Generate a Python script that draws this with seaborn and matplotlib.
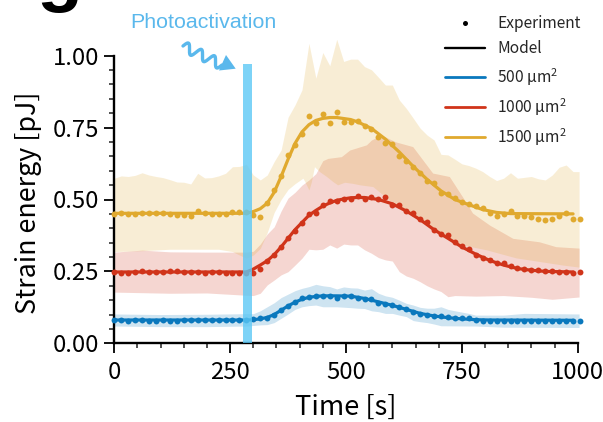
import numpy as np
import pandas as pd
import matplotlib
matplotlib.use("Agg")
import matplotlib.pyplot as plt
from matplotlib.lines import Line2D
from matplotlib.patches import Polygon
from matplotlib.ticker import MultipleLocator
import seaborn as sns

BLUE, RED, YELLOW = "#0a78bd", "#d0341a", "#e0a92e"

time_exp = list(range(0, 1006, 15))
exp_500 = [.081,.08,.079,.08,.08,.079,.079,.08,.079,.079,.081,.081,.081,.081,.081,.081,.081,.081,.081,.082,
           .083,.087,.089,.10,.116,.131,.143,.156,.16,.166,.163,.165,.159,.164,.163,.159,.153,.153,.14,.136,
           .132,.126,.118,.108,.101,.098,.095,.095,.09,.088,.088,.087,.081,.078,.079,.079,.079,.078,.078,.079,
           .079,.078,.079,.079,.077,.078,.079,.079]
exp_1000 = [.249,.246,.246,.249,.252,.249,.247,.247,.25,.252,.248,.247,.247,.246,.247,.247,.246,.246,.245,.245,
            .243,.26,.285,.306,.336,.367,.392,.417,.449,.454,.482,.495,.495,.501,.502,.512,.501,.51,.502,.51,
            .48,.48,.459,.452,.431,.422,.394,.379,.377,.351,.34,.327,.306,.297,.29,.28,.28,.268,.263,.26,
            .255,.256,.251,.251,.249,.249,.246,.247]
exp_1500 = [.451,.452,.45,.45,.454,.454,.454,.452,.45,.446,.446,.443,.461,.452,.45,.449,.451,.456,.455,.455,
            .445,.44,.487,.533,.583,.656,.69,.729,.79,.767,.797,.765,.803,.771,.768,.772,.757,.746,.719,.698,
            .692,.65,.635,.614,.593,.566,.559,.524,.52,.504,.493,.483,.478,.47,.454,.443,.45,.459,.443,.444,
            .439,.431,.428,.431,.444,.452,.431,.432]

t_m500 = [0,285,300,315,330,345,360,375,390,405,420,435,450,480,510,540,570,600,630,660,690,720,750,780,810,990]
m_500 = [.081,.081,.082,.085,.09,.10,.115,.13,.143,.153,.16,.163,.165,.165,.164,.156,.144,.132,.118,.104,.095,.089,.085,.082,.081,.08]
t_m1000 = [0,285,300,315,330,345,360,375,390,405,420,435,450,465,480,495,510,525,540,570,600,630,660,690,720,750,780,810,840,870,900,930,990]
m_1000 = [.248,.248,.258,.272,.287,.308,.335,.365,.395,.42,.445,.462,.477,.488,.497,.502,.506,.507,.507,.50,.485,.46,.43,.395,.365,.335,.31,.288,.272,.26,.254,.25,.248]
t_m1500 = [0,285,300,315,330,345,360,375,390,405,420,435,450,465,480,510,525,555,585,615,645,675,705,735,765,795,825,855,990]
m_1500 = [.452,.452,.458,.468,.487,.525,.58,.64,.695,.735,.76,.775,.782,.785,.785,.778,.77,.747,.71,.665,.615,.57,.53,.50,.482,.465,.455,.451,.45]

t_u500 = [0,100,200,285,300,315,330,345,360,375,390,405,420,435,450,465,480,495,510,525,540,555,570,585,600,615,630,645,660,675,690,705,720,735,765,780,840,885,1003]
u_500 = [.102,.10,.101,.103,.103,.113,.127,.141,.159,.171,.183,.191,.197,.205,.20,.197,.189,.196,.193,.192,.185,.19,.174,.165,.16,.15,.139,.133,.125,.122,.122,.127,.118,.113,.104,.098,.098,.104,.102]
t_l500 = [0,100,200,285,315,330,345,360,375,390,405,420,435,450,480,510,525,540,555,570,585,600,615,630,645,660,675,690,705,780,840,1003]
l_500 = [.06,.058,.058,.06,.064,.065,.072,.087,.102,.118,.127,.131,.133,.127,.127,.124,.122,.121,.113,.11,.104,.104,.098,.093,.079,.075,.072,.067,.061,.06,.056,.055]

t_u1000 = [0,60,120,200,285,300,315,330,345,360,375,390,405,420,435,450,461,490,508,544,555,576,608,644,687,723,756,773,810,860,917,953,1003]
u_1000 = [.317,.324,.318,.317,.317,.32,.345,.38,.405,.46,.505,.525,.55,.568,.59,.635,.643,.649,.672,.69,.707,.724,.70,.684,.592,.58,.498,.453,.411,.365,.353,.336,.331]
t_l1000 = [0,60,120,200,285,300,315,330,345,360,375,390,405,420,435,450,465,480,495,510,525,540,555,570,585,600,615,630,645,660,675,690,705,720,735,780,840,900,945,1003]
l_1000 = [.178,.176,.174,.175,.167,.166,.174,.203,.22,.238,.249,.272,.296,.327,.325,.327,.342,.331,.345,.342,.342,.325,.313,.298,.29,.286,.249,.234,.226,.214,.20,.189,.18,.162,.166,.164,.166,.16,.153,.161]

t_u1500 = [0,15,30,45,60,75,90,105,120,135,150,165,180,195,210,225,240,255,270,285,300,315,330,345,360,375,390,405,420,435,450,465,480,495,510,525,540,555,570,585,600,615,630,645,660,675,690,705,720,735,750,765,780,795,810,825,840,855,870,885,900,915,930,945,960,975,990,1003]
u_1500 = [.574,.582,.58,.584,.593,.585,.58,.576,.569,.561,.56,.554,.591,.575,.576,.582,.591,.614,.615,.622,.585,.568,.585,.632,.672,.786,.829,.881,1.043,.922,1.011,.965,1.057,.98,.988,.988,.962,.951,.925,.898,.898,.846,.817,.783,.748,.724,.707,.657,.655,.64,.624,.618,.609,.597,.58,.566,.574,.593,.574,.577,.58,.572,.568,.585,.612,.62,.597,.597]
t_l1500 = [0,60,120,225,255,270,285,300,315,330,345,360,375,390,407,411,420,425,432,443,458,472,482,497,515,530,558,601,659,708,752,803,867,968,1003]
l_1500 = [.319,.322,.327,.327,.319,.307,.296,.307,.33,.385,.455,.50,.535,.555,.574,.563,.533,.56,.614,.597,.58,.562,.551,.56,.556,.551,.545,.488,.436,.371,.342,.325,.297,.272,.265]

yticks = [0, .25, .5, .75, 1]
xticks = [0, 250, 500, 750, 1000]

sns.set_style("ticks")
plt.rcParams["font.family"] = ["Noto Sans CJK SC", "DejaVu Sans"]
plt.rcParams["mathtext.default"] = "regular"
plt.rcParams["axes.unicode_minus"] = False

W, H = 603, 422
fig = plt.figure(figsize=(W / 100, H / 100), dpi=100)
ax = fig.add_axes([114.3 / W, 1 - 343.3 / H, (577.7 - 114.3) / W, (343.3 - 55.7) / H])

for tu, u, tl, l, c in [(t_u500, u_500, t_l500, l_500, BLUE),
                        (t_u1000, u_1000, t_l1000, l_1000, RED),
                        (t_u1500, u_1500, t_l1500, l_1500, YELLOW)]:
    grid = np.union1d(tu, tl)
    ax.fill_between(grid, np.interp(grid, tl, l), np.interp(grid, tu, u),
                    color=c, alpha=0.2, lw=0, clip_on=False, zorder=1)

exp_df = pd.DataFrame({"t": time_exp, "500": exp_500, "1000": exp_1000, "1500": exp_1500})
for key, tm, m, c in [("500", t_m500, m_500, BLUE),
                      ("1000", t_m1000, m_1000, RED),
                      ("1500", t_m1500, m_1500, YELLOW)]:
    sns.scatterplot(data=exp_df, x="t", y=key, ax=ax, color=c, s=18, linewidth=0,
                    clip_on=False, zorder=3)
    sns.lineplot(x=tm, y=m, ax=ax, color=c, lw=2.3, clip_on=False, zorder=3, errorbar=None)

ax.axvspan(277, 297, ymin=0, ymax=0.97, facecolor="#5cc8f5", alpha=0.8, lw=0, zorder=4)

ax.set_xlim(0, 1000)
ax.set_ylim(0, 1)
ax.set_xticks(xticks)
ax.set_yticks(yticks)
ax.set_yticklabels(["0.00", "0.25", "0.50", "0.75", "1.00"])
ax.xaxis.set_minor_locator(MultipleLocator(50))
ax.yaxis.set_minor_locator(MultipleLocator(0.05))
ax.tick_params(which="major", length=7.2, width=1.3, labelsize=17.2, color="black", labelcolor="black", pad=3.5)
ax.tick_params(axis="x", which="major", pad=5.5)
ax.tick_params(which="minor", length=3.6, width=1.1, color="#222222")
ax.set_xlabel("Time [s]", fontsize=19.6, labelpad=7, color="black")
ax.set_ylabel("Strain energy [pJ]", fontsize=19.3, color="black")
ax.yaxis.set_label_coords(-0.157, 0.49)
for side in ["left", "bottom"]:
    ax.spines[side].set_linewidth(1.7)
    ax.spines[side].set_color("black")
sns.despine(ax=ax)

handles = [
    Line2D([], [], ls="none", marker="o", ms=3.6, mfc="black", mec="none"),
    Line2D([], [], color="black", lw=1.7),
    Line2D([], [], color=BLUE, lw=2.0),
    Line2D([], [], color=RED, lw=2.0),
    Line2D([], [], color=YELLOW, lw=2.0),
]
labels = ["Experiment", "Model", "500 μm$^{2}$", "1000 μm$^{2}$", "1500 μm$^{2}$"]
ax.legend(handles, labels, loc="upper left", bbox_to_anchor=(445 / W, 1 - 15 / H),
          bbox_transform=fig.transFigure, frameon=False, fontsize=11.2,
          handlelength=2.57, handletextpad=0.8, labelspacing=0.54, borderpad=0, borderaxespad=0)

# annotation decoration, in figure pixels
fig.text(130 / W, 1 - 22 / H, "Photoactivation", family="Liberation Sans", fontsize=15.4,
         color="#5ab8ec", va="center", ha="left")
fig.text(60 / W, 1 + 2 / H, "g", family="Liberation Sans", fontweight="bold", fontsize=54,
         color="black", va="baseline", ha="center")

s = np.linspace(0, 1, 160)
x0, y0, x1, y1 = 183, 46, 222, 65
dx, dy = x1 - x0, y1 - y0
n = np.hypot(dx, dy)
wave = -5.0 * np.sin(2 * np.pi * 3.0 * s)
px = x0 + dx * s - dy / n * wave
py = y0 + dy * s + dx / n * wave
fig.add_artist(Line2D(px / W, 1 - py / H, color="#5ab8ec", lw=2.4, transform=fig.transFigure))
tri = np.array([(226, 55), (219, 70.5), (235.7, 68.7)], dtype=float)
tri[:, 0] /= W
tri[:, 1] = 1 - tri[:, 1] / H
fig.add_artist(Polygon(tri, closed=True, facecolor="#5ab8ec", edgecolor="none", transform=fig.transFigure))

fig.savefig("out.png", dpi=100)
